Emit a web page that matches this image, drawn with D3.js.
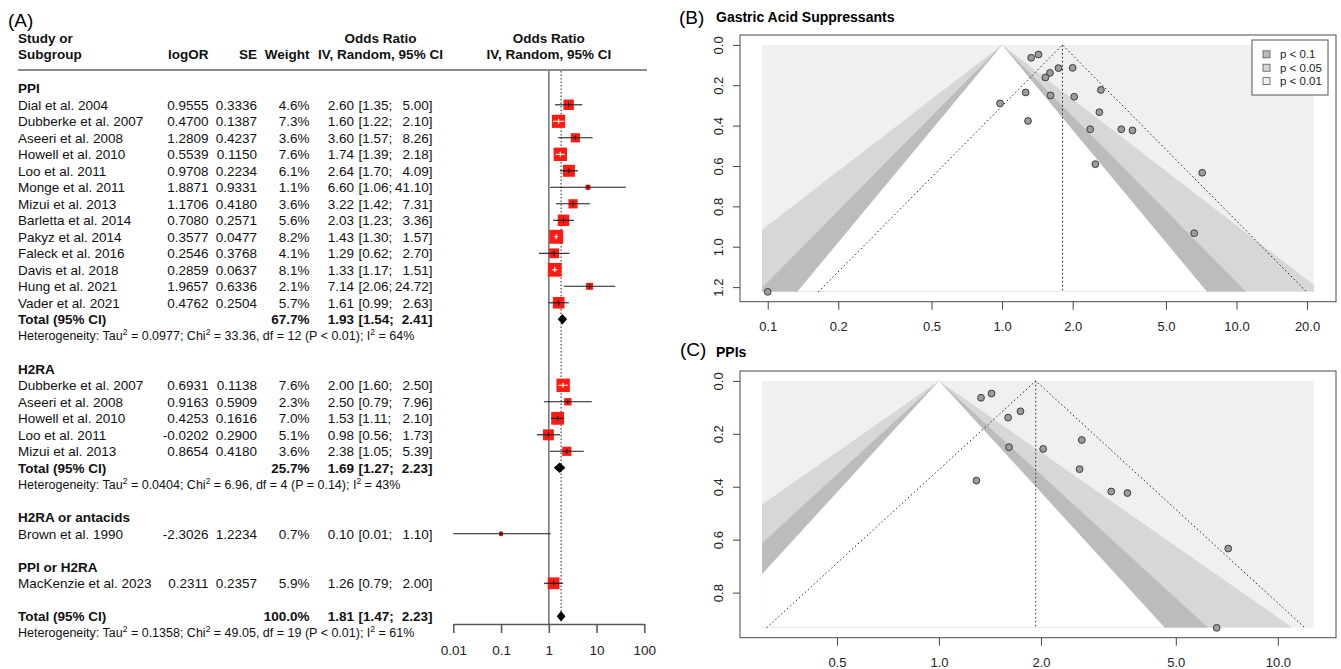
<!DOCTYPE html>
<html lang="en">
<head>
<meta charset="UTF-8">
<title>Forest and funnel plots</title>
<script src="https://d3js.org/d3.v7.min.js"></script>
<style>
  body { margin: 0; background: #fff; }
  svg { display: block; font-family: "Liberation Sans", Arial, Helvetica, sans-serif; }
</style>
</head>
<body>
<script>
// ---- data
const ppiStudy = ["Dial et al. 2004", "Dubberke et al. 2007", "Aseeri et al. 2008", "Howell et al. 2010", "Loo et al. 2011", "Monge et al. 2011", "Mizui et al. 2013", "Barletta et al. 2014", "Pakyz et al. 2014", "Faleck et al. 2016", "Davis et al. 2018", "Hung et al. 2021", "Vader et al. 2021"];
const ppiLogOR = [0.9555, 0.4700, 1.2809, 0.5539, 0.9708, 1.8871, 1.1706, 0.7080, 0.3577, 0.2546, 0.2859, 1.9657, 0.4762];
const ppiSE = [0.3336, 0.1387, 0.4237, 0.1150, 0.2234, 0.9331, 0.4180, 0.2571, 0.0477, 0.3768, 0.0637, 0.6336, 0.2504];
const ppiWeight = [4.6, 7.3, 3.6, 7.6, 6.1, 1.1, 3.6, 5.6, 8.2, 4.1, 8.1, 2.1, 5.7];
const ppiOR = [2.60, 1.60, 3.60, 1.74, 2.64, 6.60, 3.22, 2.03, 1.43, 1.29, 1.33, 7.14, 1.61];
const ppiLower = [1.35, 1.22, 1.57, 1.39, 1.70, 1.06, 1.42, 1.23, 1.30, 0.62, 1.17, 2.06, 0.99];
const ppiUpper = [5.00, 2.10, 8.26, 2.18, 4.09, 41.10, 7.31, 3.36, 1.57, 2.70, 1.51, 24.72, 2.63];
const ppiTotal = [67.7, 1.93, 1.54, 2.41];          // weight, OR, lower, upper
const ppiHet = [0.0977, 33.36, 12, "P < 0.01", 64];  // tau2, chi2, df, p, I2

const h2raStudy = ["Dubberke et al. 2007", "Aseeri et al. 2008", "Howell et al. 2010", "Loo et al. 2011", "Mizui et al. 2013"];
const h2raLogOR = [0.6931, 0.9163, 0.4253, -0.0202, 0.8654];
const h2raSE = [0.1138, 0.5909, 0.1616, 0.2900, 0.4180];
const h2raWeight = [7.6, 2.3, 7.0, 5.1, 3.6];
const h2raOR = [2.00, 2.50, 1.53, 0.98, 2.38];
const h2raLower = [1.60, 0.79, 1.11, 0.56, 1.05];
const h2raUpper = [2.50, 7.96, 2.10, 1.73, 5.39];
const h2raTotal = [25.7, 1.69, 1.27, 2.23];
const h2raHet = [0.0404, 6.96, 4, "P = 0.14", 43];

const antStudy = ["Brown et al. 1990"];
const antLogOR = [-2.3026];
const antSE = [1.2234];
const antWeight = [0.7];
const antOR = [0.10];
const antLower = [0.01];
const antUpper = [1.10];

const mixStudy = ["MacKenzie et al. 2023"];
const mixLogOR = [0.2311];
const mixSE = [0.2357];
const mixWeight = [5.9];
const mixOR = [1.26];
const mixLower = [0.79];
const mixUpper = [2.00];

const allTotal = [100.0, 1.81, 1.47, 2.23];
const allHet = [0.1358, 49.05, 19, "P < 0.01", 61];

const forestTicks = [0.01, 0.1, 1, 10, 100];
const forestTickLabels = ["0.01", "0.1", "1", "10", "100"];

const funnelTicksB = [0.1, 0.2, 0.5, 1, 2, 5, 10, 20];
const funnelTicksC = [0.5, 1, 2, 5, 10];
const seTicksB = [0, 0.2, 0.4, 0.6, 0.8, 1.0, 1.2];
const seTicksC = [0, 0.2, 0.4, 0.6, 0.8];
const funnelXlimB = [0.0946, 21.4];
const funnelXlimC = [0.3007, 12.78];

const contourZ = [2.576, 1.96, 1.645];
const contourLabels = ["p < 0.1", "p < 0.05", "p < 0.01"];

// ---- page
const w = 1341, h = 669;
const svg = d3.select('body').append('svg')
    .attr('width', w)
    .attr('height', h);

const groups = [
    { label: 'PPI', study: ppiStudy, logOR: ppiLogOR, se: ppiSE, weight: ppiWeight, or: ppiOR, lower: ppiLower, upper: ppiUpper, total: ppiTotal, het: ppiHet },
    { label: 'H2RA', study: h2raStudy, logOR: h2raLogOR, se: h2raSE, weight: h2raWeight, or: h2raOR, lower: h2raLower, upper: h2raUpper, total: h2raTotal, het: h2raHet },
    { label: 'H2RA or antacids', study: antStudy, logOR: antLogOR, se: antSE, weight: antWeight, or: antOR, lower: antLower, upper: antUpper, total: null },
    { label: 'PPI or H2RA', study: mixStudy, logOR: mixLogOR, se: mixSE, weight: mixWeight, or: mixOR, lower: mixLower, upper: mixUpper, total: null }
];

// ================= (A) forest plot
const fs = 13.5;
const rowY = k => 88.3 + 16.5 * k;
const base = k => rowY(k) + 0.36 * fs;
const xF = d3.scaleLog().domain([0.01, 100]).range([453.3, 644.3]);
const col = { name: 18, logOR: 208.5, se: 257, weight: 309.5, est: 354, lo: 358.5, hi: 432.5 };

const A = svg.append('g').attr('font-size', fs).attr('fill', '#111');

svg.append('text').attr('x', 8).attr('y', 27).attr('font-size', 19).text('(A)');

// header
const hb1 = 43.2, hb2 = 59.2;
A.append('text').attr('x', col.name).attr('y', hb1).attr('font-weight', 'bold').text('Study or');
A.append('text').attr('x', col.name).attr('y', hb2).attr('font-weight', 'bold').text('Subgroup');
A.append('text').attr('x', col.logOR).attr('y', hb2).attr('font-weight', 'bold').attr('text-anchor', 'end').text('logOR');
A.append('text').attr('x', col.se).attr('y', hb2).attr('font-weight', 'bold').attr('text-anchor', 'end').text('SE');
A.append('text').attr('x', col.weight).attr('y', hb2).attr('font-weight', 'bold').attr('text-anchor', 'end').text('Weight');
A.append('text').attr('x', 380.5).attr('y', hb1).attr('font-weight', 'bold').attr('text-anchor', 'middle').text('Odds Ratio');
A.append('text').attr('x', 380.5).attr('y', hb2).attr('font-weight', 'bold').attr('text-anchor', 'middle').text('IV, Random, 95% CI');
A.append('text').attr('x', xF(1)).attr('y', hb1).attr('font-weight', 'bold').attr('text-anchor', 'middle').text('Odds Ratio');
A.append('text').attr('x', xF(1)).attr('y', hb2).attr('font-weight', 'bold').attr('text-anchor', 'middle').text('IV, Random, 95% CI');

A.append('line')
    .attr('x1', 18).attr('x2', 647)
    .attr('y1', 70).attr('y2', 70)
    .attr('stroke', '#8a8a8a').attr('stroke-width', 2);

// reference lines
A.append('line')
    .attr('x1', xF(1)).attr('x2', xF(1))
    .attr('y1', 71).attr('y2', 624)
    .attr('stroke', '#7a7a7a').attr('stroke-width', 1.6);
A.append('line')
    .attr('x1', xF(allTotal[1])).attr('x2', xF(allTotal[1]))
    .attr('y1', 71).attr('y2', 621)
    .attr('stroke', '#222').attr('stroke-width', 1).attr('stroke-dasharray', '1.5,2');

function orText(k, est, lo, hi, bold) {
    const t = A.append('g').attr('font-weight', bold ? 'bold' : null);
    t.append('text').attr('x', col.est).attr('y', base(k)).attr('text-anchor', 'end').text(est.toFixed(2));
    t.append('text').attr('x', col.lo).attr('y', base(k)).text('[' + lo.toFixed(2) + ';');
    t.append('text').attr('x', col.hi).attr('y', base(k)).attr('text-anchor', 'end').text(hi.toFixed(2) + ']');
}

function studyRow(k, g, i) {
    A.append('text').attr('x', col.name).attr('y', base(k)).text(g.study[i]);
    A.append('text').attr('x', col.logOR).attr('y', base(k)).attr('text-anchor', 'end').text(g.logOR[i].toFixed(4));
    A.append('text').attr('x', col.se).attr('y', base(k)).attr('text-anchor', 'end').text(g.se[i].toFixed(4));
    A.append('text').attr('x', col.weight).attr('y', base(k)).attr('text-anchor', 'end').text(g.weight[i].toFixed(1) + '%');
    orText(k, g.or[i], g.lower[i], g.upper[i], false);

    const cx = xF(g.or[i]), cy = rowY(k);
    const side = 4.85 * Math.sqrt(g.weight[i]);
    const x1 = xF(g.lower[i]), x2 = xF(g.upper[i]);
    const inside = x1 >= cx - side / 2 && x2 <= cx + side / 2;
    const lc = inside ? '#fff' : '#1a1a1a';
    A.append('rect')
        .attr('x', cx - side / 2).attr('y', cy - side / 2)
        .attr('width', side).attr('height', side)
        .attr('fill', '#ff1a12');
    A.append('line').attr('x1', x1).attr('x2', x2).attr('y1', cy).attr('y2', cy)
        .attr('stroke', lc).attr('stroke-width', 1.1);
    A.append('line').attr('x1', cx).attr('x2', cx).attr('y1', cy - 2.5).attr('y2', cy + 2.5)
        .attr('stroke', lc).attr('stroke-width', 1.1);
}

function totalRow(k, t) {
    A.append('text').attr('x', col.name).attr('y', base(k)).attr('font-weight', 'bold').text('Total (95% CI)');
    A.append('text').attr('x', col.weight).attr('y', base(k)).attr('font-weight', 'bold').attr('text-anchor', 'end').text(t[0].toFixed(1) + '%');
    orText(k, t[1], t[2], t[3], true);
    const cy = rowY(k);
    A.append('path')
        .attr('d', `M${xF(t[2])},${cy}L${xF(t[1])},${cy - 5.3}L${xF(t[3])},${cy}L${xF(t[1])},${cy + 5.3}Z`)
        .attr('fill', '#000');
}

function hetRow(k, het) {
    const hs = 12.5;
    const t = A.append('text').attr('x', col.name).attr('y', rowY(k) + 0.36 * hs).attr('font-size', hs);
    const parts = [
        ['Heterogeneity: Tau', false], ['2', true],
        [' = ' + het[0].toFixed(4) + '; Chi', false], ['2', true],
        [' = ' + het[1].toFixed(2) + ', df = ' + het[2] + ' (' + het[3] + '); I', false], ['2', true],
        [' = ' + het[4] + '%', false]
    ];
    let up = false;
    parts.forEach(([s, sup]) => {
        const sp = t.append('tspan').text(s);
        if (sup) { sp.attr('font-size', 8.5).attr('dy', -5); up = true; }
        else if (up) { sp.attr('dy', 5); up = false; }
    });
}

let k = 0;
groups.forEach(g => {
    A.append('text').attr('x', col.name).attr('y', base(k)).attr('font-weight', 'bold').text(g.label);
    k++;
    g.study.forEach((s, i) => { studyRow(k, g, i); k++; });
    if (g.total) {
        totalRow(k, g.total); k++;
        hetRow(k, g.het); k++;
    }
    k++;
});
totalRow(k, allTotal); k++;
hetRow(k, allHet);

// forest axis
const fAxis = A.append('g')
    .attr('transform', 'translate(0,624)')
    .call(d3.axisBottom(xF)
        .tickValues(forestTicks)
        .tickFormat((d, i) => forestTickLabels[i])
        .tickSize(9)
        .tickSizeOuter(0)
        .tickPadding(12));
fAxis.attr('font-size', fs).attr('font-family', null).style('color', '#555');
fAxis.select('.domain').attr('stroke-width', 1.5);
fAxis.selectAll('.tick line').attr('stroke-width', 1.5);
fAxis.selectAll('text').attr('fill', '#222');

// ================= (B) and (C) funnel plots
const allLogOR = [].concat(ppiLogOR, h2raLogOR, antLogOR, mixLogOR);
const allSE = [].concat(ppiSE, h2raSE, antSE, mixSE);
const contourFill = ['#d7d7d7', '#bcbcbc', '#ffffff'];

function funnel(cfg) {
    const [bx0, by0, bx1, by1] = cfg.box;
    const padX = (bx1 - bx0) * 0.04 / 1.08;
    const padY = (by1 - by0) * 0.04 / 1.08;
    const seMax = d3.max(cfg.se);
    const x = d3.scaleLog().domain(cfg.xlim).range([bx0 + padX, bx1 - padX]);
    const y = d3.scaleLinear().domain([0, seMax]).range([by0 + padY, by1 - padY]);
    const g = svg.append('g');

    const clipId = 'clip' + cfg.id;
    g.append('clipPath').attr('id', clipId)
        .append('rect')
        .attr('x', x(cfg.xlim[0])).attr('y', y(0))
        .attr('width', x(cfg.xlim[1]) - x(cfg.xlim[0]))
        .attr('height', y(seMax) - y(0));

    const shade = g.append('g').attr('clip-path', `url(#${clipId})`);
    shade.append('rect')
        .attr('x', x(cfg.xlim[0])).attr('y', y(0))
        .attr('width', x(cfg.xlim[1]) - x(cfg.xlim[0]))
        .attr('height', y(seMax) - y(0))
        .attr('fill', '#f0f0f0');
    contourZ.forEach((z, i) => {
        const pts = [
            [x(Math.exp(-z * seMax)), y(seMax)],
            [x(1), y(0)],
            [x(Math.exp(z * seMax)), y(seMax)]
        ];
        shade.append('path')
            .attr('d', 'M' + pts.join('L') + 'Z')
            .attr('fill', contourFill[i]);
    });

    // pseudo confidence funnel around the pooled estimate
    const ref = cfg.ref;
    const dot = { stroke: '#222', 'stroke-width': 1, 'stroke-dasharray': '1.5,2.5', fill: 'none' };
    const dl = g.append('path')
        .attr('d', `M${x(ref * Math.exp(-1.96 * seMax))},${y(seMax)}L${x(ref)},${y(0)}L${x(ref * Math.exp(1.96 * seMax))},${y(seMax)}`);
    const vl = g.append('line')
        .attr('x1', x(ref)).attr('x2', x(ref))
        .attr('y1', y(0)).attr('y2', y(seMax));
    [dl, vl].forEach(s => Object.entries(dot).forEach(([a, v]) => s.attr(a, v)));

    g.selectAll('circle.pt')
        .data(cfg.logOR.map((d, i) => [d, cfg.se[i]]))
        .enter()
        .append('circle')
        .attr('class', 'pt')
        .attr('cx', d => x(Math.exp(d[0])))
        .attr('cy', d => y(d[1]))
        .attr('r', 3.4)
        .attr('fill', '#9c9c9c')
        .attr('stroke', '#3c3c3c')
        .attr('stroke-width', 1);

    // box
    g.append('rect')
        .attr('x', bx0).attr('y', by0)
        .attr('width', bx1 - bx0).attr('height', by1 - by0)
        .attr('fill', 'none').attr('stroke', '#4a4a4a').attr('stroke-width', 1);

    // x axis
    const xa = g.append('g')
        .attr('transform', `translate(0,${by1})`)
        .call(d3.axisBottom(x)
            .tickValues(cfg.xticks)
            .tickFormat(d3.format('.1f'))
            .tickSize(8)
            .tickSizeOuter(0)
            .tickPadding(12.5));
    xa.select('.domain').remove();
    xa.attr('font-size', 13).attr('font-family', null).style('color', '#444');
    xa.selectAll('text').attr('fill', '#222');

    // y axis, rotated labels
    const ya = g.append('g')
        .attr('transform', `translate(${bx0},0)`)
        .call(d3.axisLeft(y)
            .tickValues(cfg.yticks)
            .tickFormat(d3.format('.1f'))
            .tickSize(7)
            .tickSizeOuter(0));
    ya.select('.domain').remove();
    ya.attr('font-size', 13).attr('font-family', null).style('color', '#444');
    ya.selectAll('text')
        .attr('x', null).attr('dy', null)
        .attr('fill', '#222')
        .attr('text-anchor', 'middle')
        .attr('transform', 'translate(-17.3,0) rotate(-90)');

    svg.append('text').attr('x', cfg.tagX).attr('y', cfg.tagY).attr('font-size', 19).text(cfg.tag);
    svg.append('text').attr('x', 716).attr('y', cfg.titleY)
        .attr('font-size', 14).attr('font-weight', 'bold').text(cfg.title);
    return g;
}

const gB = funnel({
    id: 'B', box: [740, 35, 1336, 301.7], xlim: funnelXlimB,
    logOR: allLogOR, se: allSE, ref: allTotal[1],
    xticks: funnelTicksB, yticks: seTicksB,
    tag: '(B)', tagX: 679, tagY: 24.3, title: 'Gastric Acid Suppressants', titleY: 21.5
});
funnel({
    id: 'C', box: [740, 371, 1336, 637.7], xlim: funnelXlimC,
    logOR: ppiLogOR, se: ppiSE, ref: ppiTotal[1],
    xticks: funnelTicksC, yticks: seTicksC,
    tag: '(C)', tagX: 680, tagY: 355.5, title: 'PPIs', titleY: 356.5
});

// legend in (B)
const leg = gB.append('g');
leg.append('rect')
    .attr('x', 1252).attr('y', 40).attr('width', 76).attr('height', 55)
    .attr('fill', '#fff').attr('stroke', '#555').attr('stroke-width', 1);
const legFill = ['#bcbcbc', '#d7d7d7', '#f0f0f0'];
contourLabels.forEach((lab, i) => {
    const cy = 54.3 + 13.4 * i;
    leg.append('rect')
        .attr('x', 1263).attr('y', cy - 3.5).attr('width', 7).attr('height', 7)
        .attr('fill', legFill[i]).attr('stroke', '#555').attr('stroke-width', 0.8);
    leg.append('text')
        .attr('x', 1280).attr('y', cy + 4.1)
        .attr('font-size', 11.5).attr('fill', '#222')
        .text(lab);
});
</script>
</body>
</html>
